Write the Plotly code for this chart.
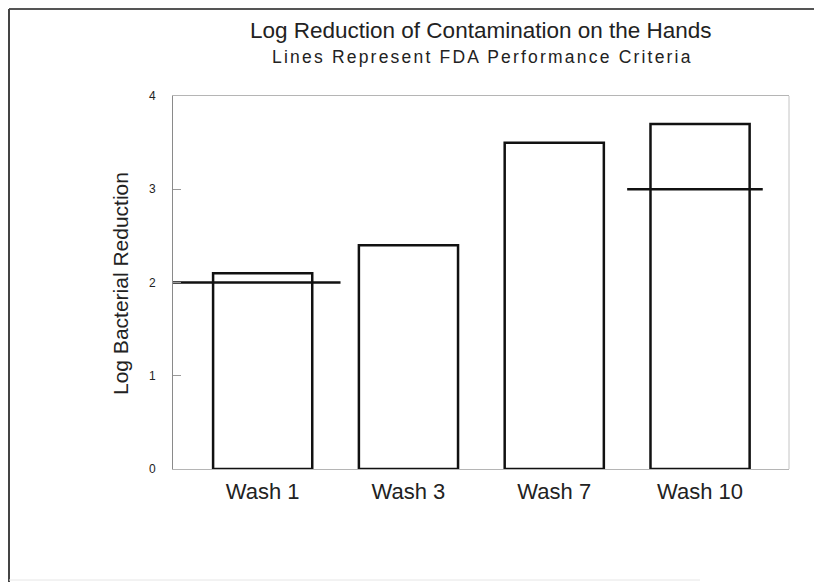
import plotly.graph_objects as go

# ---- data ----
categories = ["Wash 1", "Wash 3", "Wash 7", "Wash 10"]
log_reduction = [2.1, 2.4, 3.5, 3.7]
criteria_category = ["Wash 1", "Wash 10"]
criteria_value = [2.0, 3.0]
y_ticks = [0, 1, 2, 3, 4]

title_text = "Log Reduction of Contamination on the Hands"
subtitle_text = "Lines Represent FDA Performance Criteria"
y_title = "Log Bacterial Reduction"

FONT = "Liberation Sans, Arial, Helvetica, sans-serif"

x_pos = list(range(len(categories)))
x_range = [-0.615, 3.61]

fig = go.Figure()
fig.add_trace(go.Bar(
    x=x_pos, y=log_reduction, width=0.68,
    marker=dict(color="white", line=dict(color="#111111", width=2.5)),
    showlegend=False, hoverinfo="skip",
))

# criteria lines (horizontal extents, relative to category centre)
criteria_extent = {"Wash 1": (x_range[0], 0.534), "Wash 10": (-0.50, 0.43)}
for cat, val in zip(criteria_category, criteria_value):
    i = categories.index(cat)
    lo, hi = criteria_extent[cat]
    x0 = lo if cat == "Wash 1" else i + lo
    x1 = i + hi
    fig.add_trace(go.Scatter(
        x=[x0, x1], y=[val, val], mode="lines",
        line=dict(color="#111111", width=2.5),
        showlegend=False, hoverinfo="skip", cliponaxis=False,
    ))

L, R, T, B = 173, 25, 96, 113
W, H = 814, 582
pw = W - L - R
ph = H - T - B

def px(xp):
    return (xp - L) / pw

def py(yp):
    return (H - B - yp) / ph

fig.update_layout(
    width=W, height=H,
    margin=dict(l=L, r=R, t=T, b=B, autoexpand=False),
    paper_bgcolor="white", plot_bgcolor="white",
    font=dict(family=FONT, color="#222222"),
    xaxis=dict(
        range=x_range, tickvals=x_pos, ticktext=categories,
        showline=True, mirror=True, linecolor="#b5b5b5", linewidth=1,
        showgrid=False, zeroline=False, ticks="",
        tickfont=dict(size=22, family=FONT, color="#222222"),
        ticklabelstandoff=3, fixedrange=True,
    ),
    yaxis=dict(
        range=[0, 4], tickvals=y_ticks, ticktext=[str(v) for v in y_ticks],
        showline=True, mirror=False, linecolor="#8a8a8a", linewidth=1,
        showgrid=False, zeroline=False, ticks="inside", ticklen=8,
        tickcolor="#9a9a9a", tickwidth=1,
        tickfont=dict(size=12, family=FONT, color="#222222"),
        ticklabelstandoff=14, fixedrange=True,
    ),
    shapes=[
        dict(type="line", xref="paper", yref="paper", x0=1, x1=1, y0=0, y1=1,
             line=dict(color="#c4c4c4", width=1)),
        dict(type="line", xref="paper", yref="paper",
             x0=px(9), x1=px(830), y0=py(9), y1=py(9),
             line=dict(color="#555555", width=2)),
        dict(type="line", xref="paper", yref="paper",
             x0=px(9), x1=px(9), y0=py(9), y1=py(590),
             line=dict(color="#444444", width=2)),
        dict(type="line", xref="paper", yref="paper",
             x0=px(9), x1=px(700), y0=py(580), y1=py(580),
             line=dict(color="#e6e6e6", width=1)),
    ],
    annotations=[
        dict(text=title_text, xref="paper", yref="paper", x=px(481), y=py(30),
             xanchor="center", yanchor="middle", showarrow=False,
             font=dict(size=22.5, family=FONT, color="#222222")),
        dict(text=subtitle_text, xref="paper", yref="paper", x=px(482), y=py(57),
             xanchor="center", yanchor="middle", showarrow=False,
             font=dict(size=17.5, family=FONT, color="#222222")),
        dict(text=y_title, xref="paper", yref="paper", x=px(120), y=py(284),
             xanchor="center", yanchor="middle", textangle=-90, showarrow=False,
             font=dict(size=21, family=FONT, color="#222222")),
    ],
)

post = """
document.body.style.margin = '0';
document.querySelectorAll('.annotation-text').forEach(function (t) {
  if (t.textContent.indexOf('Lines Represent') === 0) {
    t.style.letterSpacing = '2.2px';
  }
});
"""

fig.write_html("out.html", post_script=post, config={"displayModeBar": False})
